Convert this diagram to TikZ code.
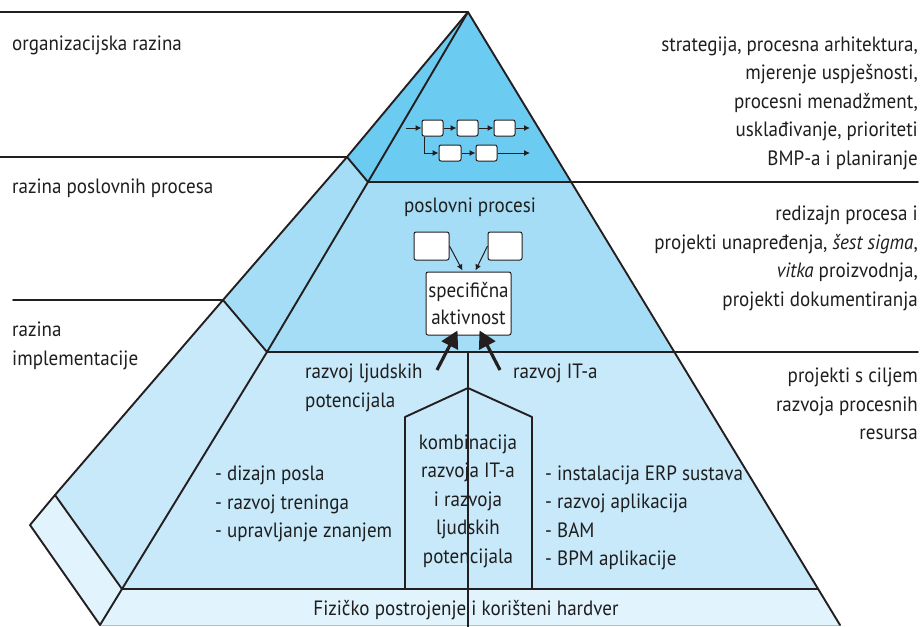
\documentclass[tikz,border=0pt]{standalone}
\usepackage{fontspec}
\setmainfont[FakeStretch=0.92]{PT Sans}
\usetikzlibrary{arrows.meta,calc}
\definecolor{cA}{HTML}{6CCBF1}
\definecolor{cB}{HTML}{A6DDF6}
\definecolor{cC}{HTML}{C8E9FA}
\definecolor{cD}{HTML}{E1F3FC}
\definecolor{lc}{HTML}{231F20}
\definecolor{tc}{HTML}{1E1E1E}
\begin{document}
\begin{tikzpicture}[x=1pt,y=-1pt,
  edge/.style={draw=lc,line width=1.9pt,line join=round,line cap=round},
  lbl/.style={font=\fontsize{20.7}{28.5}\selectfont,text=tc,inner sep=0pt},
  fbox/.style={draw=lc,fill=white,rounded corners=2pt,line width=1pt,inner sep=0pt},
  flow/.style={draw=lc,line width=1pt,-{Latex[length=6pt,width=6pt]}},
  big/.style={draw=lc,line width=3.2pt,-{Triangle[length=17pt,width=18pt]}}]
\useasboundingbox (0,0) rectangle (922,627);
% fills
\fill[cD] (122,589)--(818,589)--(840,625)--(100,625)--cycle;
\fill[cD] (55,495)--(122,589)--(100,625)--(30,525)--cycle;
\fill[cC] (267,352)--(673,352)--(818,589)--(122,589)--cycle;
\fill[cC] (223,300)--(267,352)--(122,589)--(55,495)--cycle;
\fill[cB] (368,182)--(570,182)--(673,352)--(267,352)--cycle;
\fill[cB] (347,157)--(368,182)--(267,352)--(223,300)--cycle;
\fill[cA] (468,12)--(570,182)--(368,182)--cycle;
\fill[cA] (468,12)--(368,182)--(347,157)--cycle;
\draw[gray!50,line width=0.8pt] (100,625)--(840,625);
% edges
\draw[edge] (468,12)--(347,157)--(223,300)--(55,495)--(30,525)--(100,625);
\draw[edge] (468,12)--(368,182)--(267,352)--(122,589)--(100,625);
\draw[edge] (468,12)--(840,625);
\draw[edge] (347,157)--(368,182);
\draw[edge] (223,300)--(267,352);
\draw[edge] (55,495)--(122,589);
\draw[edge] (368,182)--(918,182);
\draw[edge] (267,352)--(918,352);
\draw[edge] (122,589)--(818,589);
\draw[edge] (0,12)--(468,12);
\draw[edge] (0,157)--(347,157);
\draw[edge] (13,300)--(223,300);
% vertical and pentagon
\draw[edge,line width=1.6pt] (468,352)--(468,627);
\draw[edge] (405,589)--(405,417)--(468,388)--(532,417)--(532,589);
% left labels
\node[lbl,anchor=west] (l1) at (12,45) {organizacijska razina};
\node[lbl,anchor=west] (l2) at (12,188) {razina poslovnih procesa};
\node[lbl,anchor=west,align=left] (l3) at (12,346) {razina\\implementacije};
% right labels
\node[lbl,anchor=east,align=right] (r1) at (918,103) {strategija, procesna arhitektura,\\mjerenje uspješnosti,\\procesni menadžment,\\usklađivanje, prioriteti\\BMP-a i planiranje};
\node[lbl,anchor=east,align=right] (r2) at (918,258.5) {redizajn procesa i\\projekti unapređenja, \textit{šest sigma},\\\textit{vitka} proizvodnja,\\projekti dokumentiranja};
\node[lbl,anchor=east,align=right] (r3) at (918,404) {projekti s ciljem\\razvoja procesnih\\resursa};
% top flow
\node[fbox,minimum width=21pt,minimum height=16pt] (f1) at (432.5,128) {};
\node[fbox,minimum width=21pt,minimum height=16pt] (f2) at (467.5,128) {};
\node[fbox,minimum width=21pt,minimum height=16pt] (f3) at (504.5,128) {};
\node[fbox,minimum width=22pt,minimum height=16pt] (f4) at (450,153) {};
\node[fbox,minimum width=21pt,minimum height=16pt] (f5) at (486.5,153) {};
\coordinate (fs) at (406,128);
\coordinate (fe1) at (530,128);
\coordinate (fe2) at (530,153);
\coordinate (fb) at (424,153);
\draw[flow] (fs)--(f1);
\draw[flow] (f1)--(f2);
\draw[flow] (f2)--(f3);
\draw[flow] (f3)--(fe1);
\draw[flow] (f1.south -| fb)--(fb)--(f4);
\draw[flow] (f4)--(f5);
\draw[flow] (f5)--(fe2);
% business process level
\node[lbl] (pp) at (470,207) {poslovni procesi};
\node[fbox,minimum width=35pt,minimum height=28pt] (b1) at (431.5,246) {};
\node[fbox,minimum width=34pt,minimum height=28pt] (b2) at (505,246) {};
\node[fbox,minimum width=85pt,minimum height=63pt,align=center,font=\fontsize{20.7}{27}\selectfont,text=tc] (sa) at (468.5,303.5) {specifična\\aktivnost};
\draw[flow] (b1.east)--($(sa.north)+(-6,-1)$);
\draw[flow] (b2.west)--($(sa.north)+(7,-1)$);
\coordinate (al) at (437,370);
\coordinate (ar) at (500,370);
\draw[big] (al)--($(sa.south)+(-11,-5)$);
\draw[big] (ar)--($(sa.south)+(11,-5)$);
% implementation level
\node[lbl,anchor=west,align=left] (rl) at (305,388) {razvoj ljudskih\\potencijala};
\node[lbl,anchor=west] (ri) at (513,373) {razvoj IT-a};
\node[lbl,align=center] (ko) at (468,501) {kombinacija\\razvoja IT-a\\i razvoja\\ljudskih\\potencijala};
\node[lbl,anchor=west,align=left] (ll) at (215,504) {- dizajn posla\\- razvoj treninga\\- upravljanje znanjem};
\node[lbl,anchor=west,align=left] (rlist) at (545,518) {- instalacija ERP sustava\\- razvoj aplikacija\\- BAM\\- BPM aplikacije};
\node[lbl] (hw) at (466,610) {Fizičko postrojenje i korišteni hardver};
\end{tikzpicture}
\end{document}
